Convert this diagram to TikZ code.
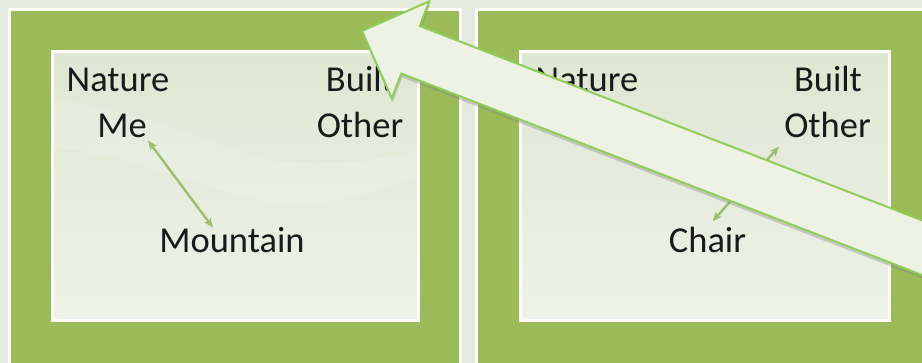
\documentclass[tikz,border=0pt]{standalone}
\usepackage{fontspec}
\setmainfont{Carlito}
\usetikzlibrary{arrows.meta,shadows}

\begin{document}
\begin{tikzpicture}
[x = 1pt, y = -1pt,
 every node/.style = {inner sep = 0pt, text = textcolor, font = \fontsize{36.5}{44}\selectfont},
 word/.style = {anchor = base},
 panel/.style = {fill = panelcolor, draw = white, line width = 3pt},
 inner box/.style = {draw = white, line width = 3pt, top color = boxtop, bottom color = boxbottom},
 swoosh/.style = {fill = white, opacity = .14},
 link/.style = {draw = linkcolor, line width = 2.4pt,
   {Stealth[length=10pt,width=8pt]}-{Stealth[length=10pt,width=8pt]}},
 big arrow/.style = {fill = arrowfill, draw = arrowline, line width = 2pt,
   drop shadow = {shadow xshift = 1pt, shadow yshift = -4pt, opacity = .35}}]

% Define colors
\definecolor{backcolor}{HTML}{E4EADD}
\definecolor{panelcolor}{HTML}{9BBB59}
\definecolor{boxtop}{HTML}{DEE7D3}
\definecolor{boxbottom}{HTML}{EEF2E8}
\definecolor{linkcolor}{HTML}{9DBE6C}
\definecolor{arrowfill}{HTML}{EEF2E4}
\definecolor{arrowline}{HTML}{8FCE5A}
\definecolor{textcolor}{HTML}{1A1A1A}

\useasboundingbox (0,0) rectangle (922,363);
\clip (0,0) rectangle (922,363);
\fill[backcolor] (0,0) rectangle (922,363);

%%%%%%%%%%% PANELS
\draw[panel] (9.5,9.5) rectangle (460.5,380);
\draw[panel] (476.5,9.5) rectangle (935,380);
\draw[inner box] (52,52) rectangle (418,321);
\draw[inner box] (520,52) rectangle (889,321);
\fill[swoosh] (54,100) .. controls (150,110) and (220,150) .. (273,160)
  .. controls (330,168) and (380,160) .. (416,150) -- (416,177)
  .. controls (380,190) and (320,210) .. (273,203)
  .. controls (220,195) and (150,160) .. (54,147) -- cycle;

%%%%%%%%%%% LEFT
\node[word] (nature1) at (118,92) {Nature};
\node[word] (built1) at (360,92) {Built};
\node[word] (me) at (122,138) {Me};
\node[word] (other1) at (360,138) {Other};
\node[word] (mountain) at (232,253) {Mountain};
\draw[link] ([shift={(1,2)}]me.south east) -- ([shift={(-19,0)}]mountain.north);

%%%%%%%%%%% RIGHT
\node[word] (nature2) at (587,92) {Nature};
\node[word] (built2) at (828,92) {Built};
\node[word] (other2) at (827.5,138) {Other};
\node[word] (chair) at (707.5,253) {Chair};
\draw[link] ([shift={(-5,8)}]other2.south west) -- ([shift={(5,-6)}]chair.north);

%%%%%%%%%%% BIG ARROW
\begin{scope}[shift={(362,31)}, rotate=-21.15]
  \draw[big arrow] (0,0) -- (52,-52) -- (52,-25.5) -- (700,-25.5)
    -- (700,25.5) -- (52,25.5) -- (52,52) -- cycle;
\end{scope}

\end{tikzpicture}
\end{document}
